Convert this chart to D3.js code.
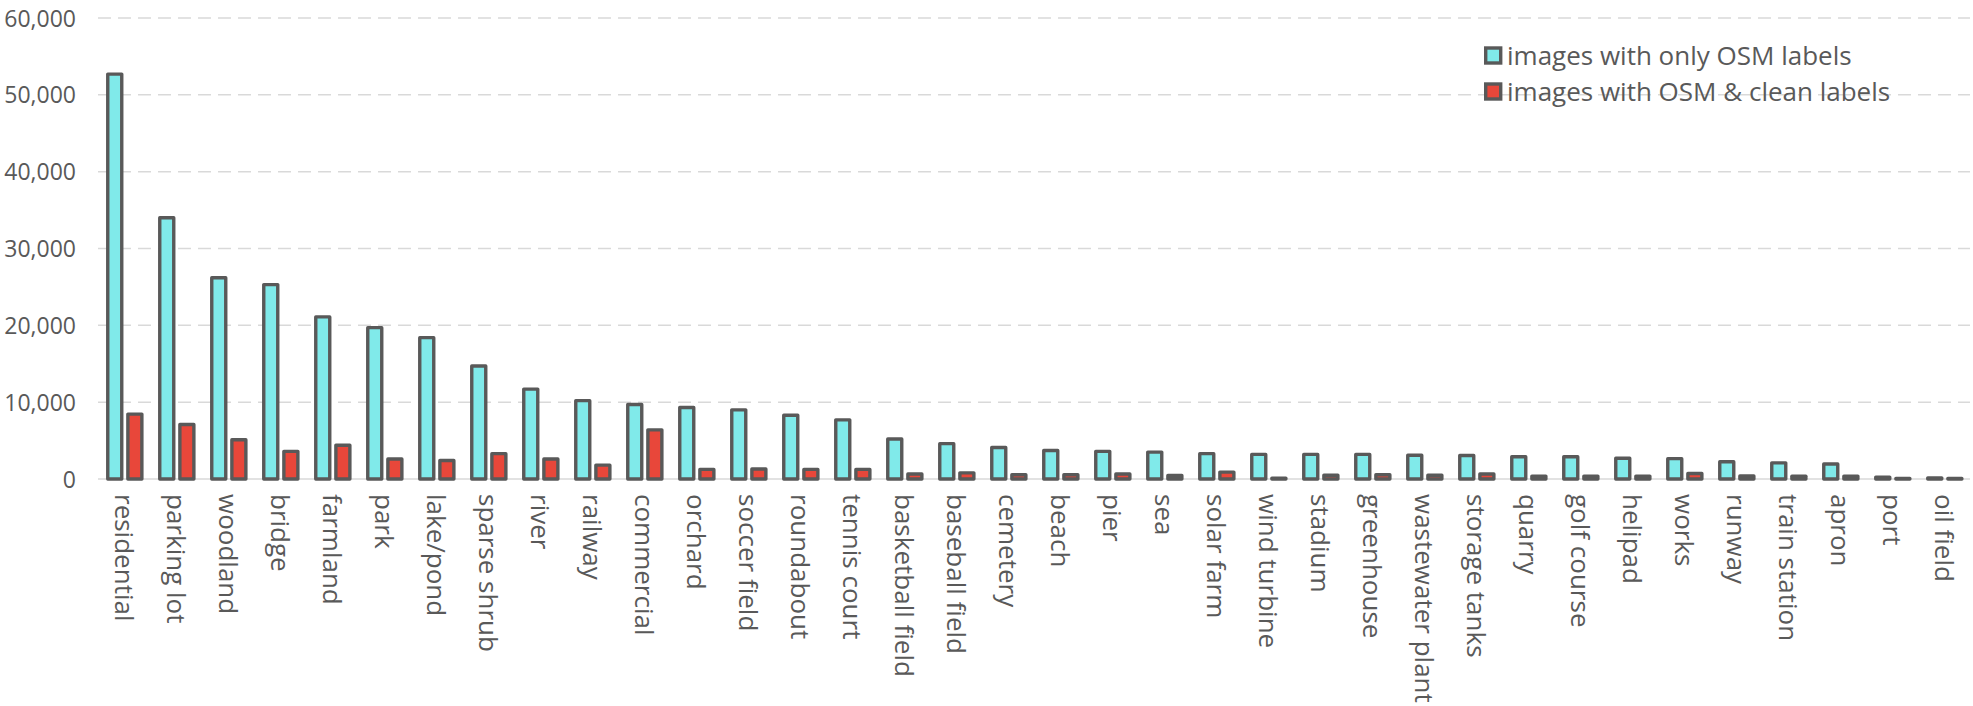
<!DOCTYPE html>
<html>
<head>
<meta charset="utf-8">
<script src="https://cdn.jsdelivr.net/npm/d3@7/dist/d3.min.js"></script>
<style>
  html, body { margin: 0; padding: 0; background: #fff; }
  svg { display: block; }
  text { font-family: "Open Sans", "Noto Sans", sans-serif; fill: #595959; }
</style>
</head>
<body>
<svg id="chart" width="1973" height="706"></svg>
<script>
const categories = ["residential","parking lot","woodland","bridge","farmland","park","lake/pond","sparse shrub","river","railway","commercial","orchard","soccer field","roundabout","tennis court","basketball field","baseball field","cemetery","beach","pier","sea","solar farm","wind turbine","stadium","greenhouse","wastewater plant","storage tanks","quarry","golf course","helipad","works","runway","train station","apron","port","oil field"];
const osmOnly = [52700,34000,26200,25300,21100,19700,18400,14700,11700,10200,9700,9300,9000,8300,7700,5200,4600,4100,3700,3600,3500,3300,3200,3200,3200,3100,3050,2900,2900,2700,2650,2250,2100,1950,250,150];
const osmClean = [8450,7100,5100,3600,4400,2600,2400,3300,2600,1800,6400,1250,1300,1250,1250,650,800,550,550,650,450,900,120,480,550,480,650,380,380,380,720,400,360,380,60,60];
const yTicks = [0,10000,20000,30000,40000,50000,60000];
const seriesNames = ["images with only OSM labels","images with OSM & clean labels"];
const seriesColors = ["#80EAEA","#E8473A"];

const svg = d3.select("#chart");
const x0 = 98, x1 = 1970, yTop = 18, yBot = 479;

const x = d3.scaleBand().domain(categories).range([x0, x1]).paddingInner(0).paddingOuter(0);
const y = d3.scaleLinear().domain([0, 60000]).range([yBot, yTop]);

// gridlines
const grid = svg.append("g");
grid.selectAll("line").data(yTicks.filter(d => d > 0)).join("line")
  .attr("x1", x0).attr("x2", x1)
  .attr("y1", d => y(d)).attr("y2", d => y(d))
  .attr("stroke", "#d9d9d9").attr("stroke-width", 1.5)
  .attr("stroke-dasharray", "13,7");
grid.append("line").attr("x1", x0).attr("x2", x1)
  .attr("y1", y(0)).attr("y2", y(0))
  .attr("stroke", "#d9d9d9").attr("stroke-width", 1.5);

// y axis
const yAxis = d3.axisLeft(y).tickValues(yTicks).tickSize(0).tickPadding(0)
  .tickFormat(d3.format(","));
const ya = svg.append("g").attr("transform", "translate(76,0)").call(yAxis);
ya.select(".domain").remove();
ya.selectAll("text").attr("font-size", 23).style("fill", "#595959")
  .attr("font-family", "Open Sans").attr("dy", "0.35em");

// bars
const bw = x.bandwidth();
const barW = 14;
const series = [osmOnly, osmClean];
const offsets = [9.7, 29.7];
series.forEach((vals, si) => {
  svg.append("g").selectAll("rect").data(categories).join("rect")
    .attr("x", d => x(d) + offsets[si] * bw / 51.7)
    .attr("width", barW)
    .attr("y", (d, i) => y(vals[i]))
    .attr("height", (d, i) => y(0) - y(vals[i]))
    .attr("fill", seriesColors[si])
    .attr("stroke", "#595959").attr("stroke-width", 3.4)
    .attr("stroke-linejoin", "round");
});

// x labels
const xAxis = d3.axisBottom(x).tickSize(0).tickPadding(0);
const xa = svg.append("g").attr("transform", `translate(0,${yBot})`).call(xAxis);
xa.select(".domain").remove();
xa.selectAll("text")
  .attr("font-size", 26).attr("font-family", "Open Sans").style("fill", "#595959")
  .attr("text-anchor", "start")
  .attr("transform", "translate(0,15) rotate(90)")
  .attr("x", 0).attr("y", 0).attr("dy", "0.35em");

// legend
const lg = svg.append("g").attr("transform", "translate(1484,0)");
seriesNames.forEach((name, i) => {
  const cy = 56 + i * 36;
  lg.append("rect").attr("x", 1.7).attr("y", cy - 8).attr("width", 15).attr("height", 15)
    .attr("fill", seriesColors[i]).attr("stroke", "#595959").attr("stroke-width", 3.4);
  lg.append("text").attr("x", 23).attr("y", cy).attr("dy", "0.35em")
    .attr("font-size", 26).text(name);
});
</script>
</body>
</html>
